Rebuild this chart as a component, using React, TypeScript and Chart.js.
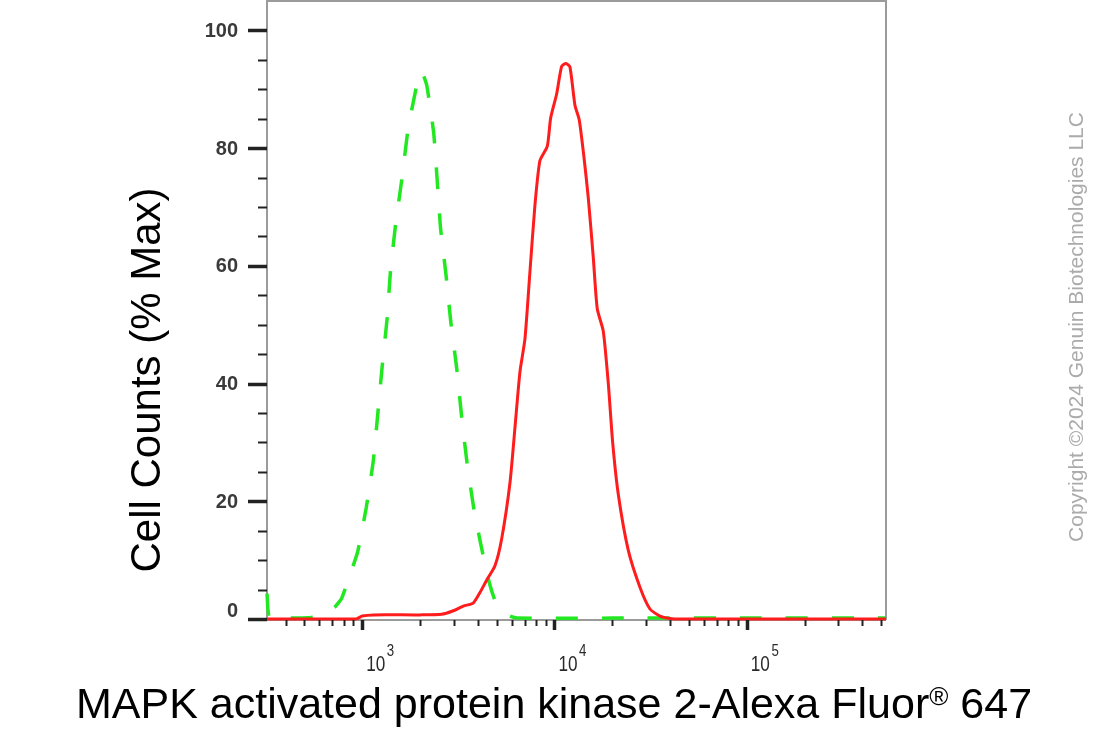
import React, { useEffect, useRef } from 'react';
import { Chart, registerables } from 'chart.js';

Chart.register(...registerables);

// ---- Data ----
// Isotype / unstained control (green dashed)
const controlX = [320, 330, 420, 520, 600, 652, 720, 782, 882, 949, 1050, 1143, 1207, 1272, 1348, 1403, 1492, 1613, 1734, 1930, 2000, 2070, 2170, 2355, 2453, 2555, 2729, 2890, 3108, 3290, 3512, 3828, 4288, 4600, 4900, 5300, 5860, 6400, 20000, 100000, 530000];
const controlY = [4.3, 0.15, 0.15, 0.2, 0.5, 1.0, 2.0, 3.5, 8.3, 11.5, 18.9, 26.9, 35, 43, 51, 59, 67, 75, 83.3, 91, 93, 92.6, 90.6, 82.6, 74.8, 66.5, 58.5, 50.5, 42.4, 34.4, 26.5, 18.3, 10.3, 6.0, 3.2, 1.5, 0.5, 0.15, 0.15, 0.15, 0.15];

// Stained sample (red solid)
const stainedX = [320, 930, 1000, 1150, 2000, 2590, 2980, 3360, 3780, 4100, 4440, 4900, 5314, 5870, 6233, 6616, 7025, 7457, 7917, 8406, 9176, 9555, 10266, 10899, 11477, 12038, 12782, 13459, 14236, 14991, 15915, 16697, 17945, 19050, 20080, 21474, 24200, 27840, 31380, 35380, 39900, 45000, 530000];
const stainedY = [0, 0, 0.5, 0.7, 0.7, 0.8, 1.4, 2.2, 2.7, 4.5, 6.6, 9.0, 13.6, 23.1, 32.5, 42, 47.6, 59, 70.3, 77.9, 80.3, 85.1, 89.2, 93.9, 94.4, 93.8, 87.3, 84.8, 78.5, 71.6, 61.5, 52.7, 48.9, 40.1, 30, 21.2, 11.7, 5.4, 1.7, 0.5, 0.1, 0, 0];

// Axis ticks and labels
const yTickValues = [0, 20, 40, 60, 80, 100];
const yTickLabels = ['0', '20', '40', '60', '80', '100'];
const yMinorStep = 5;
const xDecades = [1000, 10000, 100000];
const xDecadeBase = ['10', '10', '10'];
const xDecadeExponents = ['3', '4', '5'];
const xMinorMultipliers = [2, 3, 4, 5, 6, 7, 8, 9];

const X_MIN = 320;
const X_MAX = 530000;
const Y_MIN = 0;
const Y_MAX = 105;

const xTitleMain = 'MAPK activated protein kinase 2-Alexa Fluor';
const xTitleSup = '®';
const xTitleTail = ' 647';
const yTitle = 'Cell Counts (% Max)';
const copyright = 'Copyright ©2024 Genuin Biotechnologies LLC';

const FONT = '"Liberation Sans", Arial, Helvetica, sans-serif';

const axesPlugin = {
  id: 'facsAxes',
  beforeDatasetsDraw(chart: any) {
    const { ctx, chartArea } = chart;
    const { left, right, top, bottom } = chartArea;
    ctx.save();
    ctx.strokeStyle = '#9b9b9b';
    ctx.lineWidth = 2;
    ctx.beginPath();
    ctx.moveTo(left, bottom + 1);
    ctx.lineTo(left, top);
    ctx.lineTo(right, top);
    ctx.lineTo(right, bottom + 1);
    ctx.moveTo(left, bottom + 1);
    ctx.lineTo(right, bottom + 1);
    ctx.stroke();
    ctx.restore();
  },
  afterDraw(chart: any) {
    const { ctx, chartArea } = chart;
    const { left, bottom } = chartArea;
    const xs = chart.scales.x;
    const ys = chart.scales.y;
    ctx.save();

    // Y ticks
    ctx.strokeStyle = '#222';
    for (let v = Y_MIN; v <= 100; v += yMinorStep) {
      const py = Math.round(ys.getPixelForValue(v)) + 0.5;
      const major = v % 20 === 0;
      ctx.lineWidth = major ? 3.5 : 2;
      ctx.beginPath();
      ctx.moveTo(left - (major ? 19 : 9), py);
      ctx.lineTo(left, py);
      ctx.stroke();
    }
    ctx.fillStyle = '#3a3a3a';
    ctx.font = `bold 20px ${FONT}`;
    ctx.textAlign = 'right';
    ctx.textBaseline = 'middle';
    yTickValues.forEach((v, i) => {
      const py = ys.getPixelForValue(v);
      ctx.fillText(yTickLabels[i], 238, v === 0 ? py - 8 : py + 1);
    });

    // X ticks
    const axisY = bottom + 1;
    const decadesAll = [100, ...xDecades];
    decadesAll.forEach((d) => {
      [1, ...xMinorMultipliers].forEach((m) => {
        const v = d * m;
        if (v < X_MIN || v > X_MAX) return;
        const px = Math.round(xs.getPixelForValue(v)) + 0.5;
        const major = m === 1;
        ctx.strokeStyle = '#222';
        ctx.lineWidth = major ? 3.5 : 2;
        ctx.beginPath();
        ctx.moveTo(px, axisY);
        ctx.lineTo(px, axisY + (major ? 10 : 6));
        ctx.stroke();
      });
    });

    // X tick labels (10^n)
    ctx.textAlign = 'left';
    ctx.textBaseline = 'alphabetic';
    ctx.fillStyle = '#2a2a2a';
    xDecades.forEach((d, i) => {
      const px = xs.getPixelForValue(d);
      ctx.save();
      ctx.translate(px + 4, 671);
      ctx.scale(0.78, 1);
      ctx.font = `22px ${FONT}`;
      ctx.fillText(xDecadeBase[i], 0, 0);
      const w = ctx.measureText(xDecadeBase[i]).width;
      ctx.font = `17px ${FONT}`;
      ctx.fillText(xDecadeExponents[i], w + 2, -15);
      ctx.restore();
    });

    // X title with superscript ®
    ctx.fillStyle = '#000';
    ctx.font = `43px ${FONT}`;
    const w1 = ctx.measureText(xTitleMain).width;
    const w3 = ctx.measureText(xTitleTail).width;
    ctx.font = `26px ${FONT}`;
    const w2 = ctx.measureText(xTitleSup).width;
    const total = w1 + w2 + w3;
    let sx = 554 - total / 2;
    const baseY = 718;
    ctx.font = `43px ${FONT}`;
    ctx.fillText(xTitleMain, sx, baseY);
    sx += w1;
    ctx.font = `26px ${FONT}`;
    ctx.fillText(xTitleSup, sx, baseY - 13);
    sx += w2;
    ctx.font = `43px ${FONT}`;
    ctx.fillText(xTitleTail, sx, baseY);

    // Y title
    ctx.save();
    ctx.translate(160, 380);
    ctx.rotate(-Math.PI / 2);
    ctx.textAlign = 'center';
    ctx.font = `42px ${FONT}`;
    ctx.fillStyle = '#000';
    ctx.fillText(yTitle, 0, 0);
    ctx.restore();

    // Copyright
    ctx.save();
    ctx.translate(1083, 327);
    ctx.rotate(-Math.PI / 2);
    ctx.textAlign = 'center';
    ctx.font = `21px ${FONT}`;
    ctx.fillStyle = '#ababab';
    ctx.fillText(copyright, 0, 0);
    ctx.restore();

    ctx.restore();
  },
};

export default function App() {
  const canvasRef = useRef<HTMLCanvasElement | null>(null);

  useEffect(() => {
    const canvas = canvasRef.current;
    if (!canvas) return;
    const chart = new Chart(canvas, {
      type: 'line',
      data: {
        datasets: [
          {
            label: 'Stained',
            data: stainedX.map((x, i) => ({ x, y: stainedY[i] })),
            borderColor: 'rgb(255,28,28)',
            borderWidth: 3,
            pointRadius: 0,
            tension: 0.2,
            fill: false,
            clip: 4,
          },
          {
            label: 'Control',
            data: controlX.map((x, i) => ({ x, y: controlY[i] })),
            borderColor: 'rgb(34,232,34)',
            borderWidth: 3.5,
            borderDash: [22, 24],
            pointRadius: 0,
            tension: 0.15,
            fill: false,
            clip: 4,
          },
        ],
      },
      options: {
        responsive: false,
        animation: false,
        devicePixelRatio: 1,
        events: [],
        layout: { padding: { left: 267, right: 226, top: 1, bottom: 111 } },
        scales: {
          x: { type: 'logarithmic', min: X_MIN, max: X_MAX, display: false },
          y: { type: 'linear', min: Y_MIN, max: Y_MAX, display: false },
        },
        plugins: {
          legend: { display: false },
          tooltip: { enabled: false },
        },
      } as any,
      plugins: [axesPlugin],
    });
    return () => chart.destroy();
  }, []);

  return (
    <div style={{ position: 'fixed', left: 0, top: 0, width: 1112, height: 730, background: '#fff' }}>
      <canvas ref={canvasRef} width={1112} height={730} style={{ width: 1112, height: 730, display: 'block' }} />
    </div>
  );
}
